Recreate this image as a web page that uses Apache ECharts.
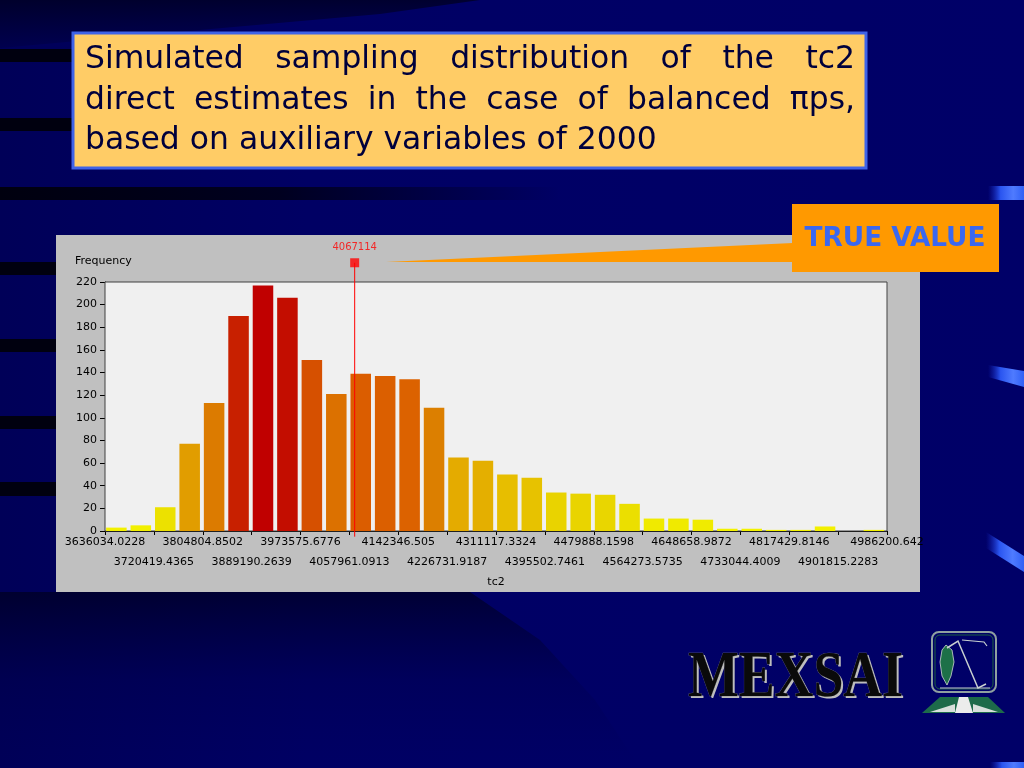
<!DOCTYPE html>
<html><head><meta charset="utf-8">
<script src="https://cdn.jsdelivr.net/npm/echarts@6/dist/echarts.min.js"></script>
<style>html,body{margin:0;padding:0;background:#000066;overflow:hidden}#chart{width:1024px;height:768px}</style>
</head><body><div id="chart"></div>
<script>
// ---- data ----
const binCounts = [3,5,21,77,113,190,217,206,151,121,139,137,134,109,65,62,50,47,34,33,32,24,11,11,10,2,2,1,1,4,0,1];
const edgeLabels = ['3636034.0228','3720419.4365','3804804.8502','3889190.2639','3973575.6776','4057961.0913','4142346.505','4226731.9187','4311117.3324','4395502.7461','4479888.1598','4564273.5735','4648658.9872','4733044.4009','4817429.8146','4901815.2283','4986200.642'];
const histStart = 3636034.0228;
const binWidth = 42192.70685;
const trueValue = 4067114;
const yMax = 220, yStep = 20;
const titleLines = ['Simulated sampling distribution of the tc2','direct estimates in the case of balanced \u03C0ps,','based on auxiliary variables of 2000'];
const calloutText = 'TRUE VALUE';
const yName = 'Frequency', xName = 'tc2';

// ---- helpers ----
const nBins = binCounts.length;
const trueBin = (trueValue - histStart) / binWidth;
const mctx = document.createElement('canvas').getContext('2d');
function textW(t, font){ mctx.font = font; return mctx.measureText(t).width; }
function fitSize(t, weight, fam, target){ const w = textW(t, weight + ' 100px ' + fam); return 100 * target / w; }

const titleFam = '"DejaVu Sans"';
const titleSize = fitSize(titleLines[2], 'normal', titleFam, 572);
const titleFont = 'normal ' + titleSize.toFixed(2) + 'px ' + titleFam;
function justified(line, x0, x1, yMid, last){
  const words = line.split(' ');
  const ws = words.map(w => textW(w, titleFont));
  const total = ws.reduce((a,b)=>a+b,0);
  const gap = last ? textW(' ', titleFont) : (x1 - x0 - total) / (words.length - 1);
  let x = x0; const els = [];
  words.forEach((w,i) => {
    els.push({type:'text', x:x, y:yMid, z:12, silent:true,
      style:{text:w, font:titleFont, fill:'#00003c', textVerticalAlign:'middle', textAlign:'left'}});
    x += ws[i] + gap;
  });
  return els;
}
const calloutSize = fitSize(calloutText, 'bold', '"DejaVu Sans"', 181);
const logoFont = 'bold 66px "Liberation Serif"';
const logoScale = 215 / textW('MEXSAI', logoFont);

const bevelGrad = {type:'linear', x:0, y:0, x2:1, y2:0, colorStops:[{offset:0,color:'rgba(20,40,200,0)'},{offset:0.35,color:'#2a55f0'},{offset:0.7,color:'#4f7bff'},{offset:1,color:'#3060f5'}]};
const dark = '#00000f';

const bg = [
  {type:'rect', z:-20, silent:true, shape:{x:0,y:0,width:1024,height:768}, style:{fill:{type:'linear',x:0,y:0,x2:1,y2:0,colorStops:[{offset:0,color:'#000058'},{offset:0.3,color:'#000064'},{offset:1,color:'#000068'}]}}},
  {type:'polygon', z:-19, silent:true, shape:{points:[[0,0],[480,0],[380,14],[200,30],[0,48]]}, style:{fill:{type:'linear',x:0,y:0,x2:0,y2:1,colorStops:[{offset:0,color:'rgba(0,0,25,0.7)'},{offset:1,color:'rgba(0,0,25,0.15)'}]}}},
  {type:'polygon', z:-19, silent:true, shape:{points:[[0,592],[470,592],[540,640],[595,700],[640,768],[0,768]]}, style:{fill:{type:'linear',x:0,y:0,x2:0,y2:1,colorStops:[{offset:0,color:'rgba(0,0,20,0.6)'},{offset:0.5,color:'rgba(0,0,40,0.15)'},{offset:1,color:'rgba(0,0,60,0)'}]}}},
  {type:'rect', z:-18, silent:true, shape:{x:0,y:49,width:72,height:13}, style:{fill:dark}},
  {type:'rect', z:-18, silent:true, shape:{x:0,y:118,width:72,height:13}, style:{fill:dark}},
  {type:'rect', z:-18, silent:true, shape:{x:0,y:187,width:560,height:13}, style:{fill:{type:'linear',x:0,y:0,x2:1,y2:0,colorStops:[{offset:0,color:dark},{offset:0.5,color:'rgba(0,0,15,0.8)'},{offset:1,color:'rgba(0,0,15,0)'}]}}},
  {type:'rect', z:-18, silent:true, shape:{x:0,y:262,width:56,height:13}, style:{fill:dark}},
  {type:'rect', z:-18, silent:true, shape:{x:0,y:339,width:56,height:13}, style:{fill:dark}},
  {type:'rect', z:-18, silent:true, shape:{x:0,y:416,width:56,height:13}, style:{fill:dark}},
  {type:'rect', z:-18, silent:true, shape:{x:0,y:482,width:56,height:14}, style:{fill:dark}},
  {type:'polygon', z:-17, silent:true, shape:{points:[[988,186],[1024,186],[1024,200],[988,200]]}, style:{fill:bevelGrad}},
  {type:'polygon', z:-17, silent:true, shape:{points:[[988,365],[1024,371],[1024,387],[988,377]]}, style:{fill:bevelGrad}},
  {type:'polygon', z:-17, silent:true, shape:{points:[[986,532],[1024,556],[1024,572],[986,548]]}, style:{fill:bevelGrad}},
  {type:'polygon', z:-17, silent:true, shape:{points:[[990,762],[1024,762],[1024,768],[990,768]]}, style:{fill:bevelGrad}},
  // chart panel
  {type:'rect', z:-5, silent:true, shape:{x:56,y:235,width:864,height:357}, style:{fill:'#c0c0c0'}},
  // title box
  {type:'rect', z:10, silent:true, shape:{x:73,y:33,width:793,height:135}, style:{fill:'#ffcc66', stroke:'#3f63e8', lineWidth:3}},
  // callout
  {type:'polygon', z:8, silent:true, shape:{points:[[386,262],[793,243],[793,262]]}, style:{fill:'#ff9900'}},
  {type:'rect', z:9, silent:true, shape:{x:792,y:204,width:207,height:68}, style:{fill:'#ff9900'}},
  {type:'text', z:10, silent:true, x:895, y:239, style:{text:calloutText, font:'bold '+calloutSize.toFixed(2)+'px "DejaVu Sans"', fill:'#3a68f0', textAlign:'center', textVerticalAlign:'middle'}},
  // axis name
  {type:'text', z:6, silent:true, x:75, y:261, style:{text:yName, font:'11px "DejaVu Sans"', fill:'#000', textAlign:'left', textVerticalAlign:'middle'}},
  // logo
  {type:'text', z:5, silent:true, x:690, y:714, scaleX:logoScale, style:{text:'MEXSAI', font:logoFont, fill:'#bdbdbd', textAlign:'left', textVerticalAlign:'bottom'}},
  {type:'text', z:6, silent:true, x:688, y:712, scaleX:logoScale, style:{text:'MEXSAI', font:logoFont, fill:'#0a0a0a', stroke:'#7a7a7a', lineWidth:0.6, textAlign:'left', textVerticalAlign:'bottom'}},
  {type:'rect', z:6, silent:true, shape:{x:932,y:632,width:64,height:60,r:7}, style:{fill:'rgba(0,0,0,0)', stroke:'#8fa0a0', lineWidth:2}},
  {type:'rect', z:6, silent:true, shape:{x:935,y:635,width:58,height:54,r:5}, style:{fill:'rgba(0,0,0,0)', stroke:'#1d5e44', lineWidth:1}},
  {type:'polygon', z:6, silent:true, shape:{points:[[946,645],[952,650],[954,662],[951,676],[947,685],[942,676],[940,662],[942,650]]}, style:{fill:'#1d7048', stroke:'#cfd8d0', lineWidth:0.8}},
  {type:'polyline', z:6, silent:true, shape:{points:[[947,648],[958,641],[978,688],[986,684]]}, style:{stroke:'#c8d0d0', lineWidth:1.5}},
  {type:'polyline', z:6, silent:true, shape:{points:[[962,640],[984,642],[987,646]]}, style:{stroke:'#c8d0d0', lineWidth:1.2}},
  {type:'line', z:6, silent:true, shape:{x1:940,y1:688,x2:990,y2:688}, style:{stroke:'#c8d0d0', lineWidth:1}},
  {type:'polygon', z:6, silent:true, shape:{points:[[922,713],[1005,713],[988,697],[940,697]]}, style:{fill:'#1d6b4a'}},
  {type:'polygon', z:7, silent:true, shape:{points:[[955,713],[973,713],[968,697],[959,697]]}, style:{fill:'#ececec'}},
  {type:'polygon', z:7, silent:true, shape:{points:[[930,712],[955,704],[955,712]]}, style:{fill:'#d8e0dc'}},
  {type:'polygon', z:7, silent:true, shape:{points:[[973,704],[998,712],[973,712]]}, style:{fill:'#d8e0dc'}}
].concat(
  justified(titleLines[0], 85, 855, 60, false),
  justified(titleLines[1], 85, 855, 101, false),
  justified(titleLines[2], 85, 855, 141, true)
);

const labelFont = {fontFamily:'DejaVu Sans', fontSize:11, color:'#000'};
function edgeLabel(v, row){
  const k = Math.round(v / 2);
  if (Math.abs(v - 2*k) > 1e-6 || k < 0 || k >= edgeLabels.length) return '';
  return (k % 2 === row) ? edgeLabels[k] : '';
}

const chart = echarts.init(document.getElementById('chart'), null, {renderer:'canvas'});
chart.setOption({
  backgroundColor:'#000066',
  animation:false,
  graphic:{elements:bg},
  grid:{left:105, right:137, top:282, bottom:237, show:true, backgroundColor:'#f0f0f0', borderColor:'#404040', borderWidth:1, z:1},
  visualMap:{show:false, type:'continuous', seriesIndex:0, dimension:1, min:0, max:Math.max.apply(null, binCounts),
    inRange:{color:['#f4f400','#eadc00','#e6b800','#e09800','#dc8000','#dc6000','#d24400','#c82000','#c00000']}},
  xAxis:[
    {type:'value', min:0, max:nBins, interval:2, position:'bottom',
      axisLine:{show:true, lineStyle:{color:'#000'}}, axisTick:{show:true, length:4, lineStyle:{color:'#000'}},
      splitLine:{show:false},
      axisLabel:Object.assign({margin:6, showMinLabel:true, showMaxLabel:true, formatter:v=>edgeLabel(v,0)}, labelFont),
      name:xName, nameLocation:'middle', nameGap:46, nameTextStyle:{fontFamily:'DejaVu Sans', fontSize:11, color:'#000'}},
    {type:'value', min:0, max:nBins, interval:2, position:'bottom',
      axisLine:{show:false}, axisTick:{show:false}, splitLine:{show:false},
      axisLabel:Object.assign({margin:26, formatter:v=>edgeLabel(v,1)}, labelFont)},
    {type:'value', min:0, max:nBins, interval:1, position:'bottom',
      axisLine:{show:false}, axisTick:{show:false}, axisLabel:{show:false},
      splitLine:{show:true, lineStyle:{color:'#c4c4c4', width:1}}}
  ],
  yAxis:{type:'value', min:0, max:yMax, interval:yStep,
    axisLine:{show:true, lineStyle:{color:'#000'}}, axisTick:{show:true, length:5, lineStyle:{color:'#000'}},
    splitLine:{show:true, lineStyle:{color:'#c4c4c4', width:1}},
    axisLabel:Object.assign({margin:8}, labelFont)},
  series:[
    {type:'custom', xAxisIndex:0, yAxisIndex:0, z:2,
      data:binCounts.map((c,i)=>[i,c]), encode:{x:0,y:1},
      renderItem:function(params, api){
        const i = api.value(0), v = api.value(1);
        const p0 = api.coord([i,0]), p1 = api.coord([i+1,v]);
        const bw = p1[0]-p0[0];
        return {type:'rect', shape:{x:p0[0]+bw*0.045, y:p1[1], width:bw*0.84, height:p0[1]-p1[1]}, style:{fill:api.visual('color')}};
      }},
    {type:'line', xAxisIndex:0, yAxisIndex:0, z:4, clip:false, silent:true, showSymbol:false, symbol:'none',
      data:[[trueBin,-5],[trueBin,237]], lineStyle:{color:'#ff0000', width:1}},
    {type:'scatter', xAxisIndex:0, yAxisIndex:0, z:5, clip:false, silent:true, symbol:'rect', symbolSize:9,
      itemStyle:{color:'#ff0000'}, data:[[trueBin,237]],
      label:{show:true, position:'top', distance:6, formatter:String(trueValue), color:'#ff0000', fontFamily:'DejaVu Sans', fontSize:10}}
  ]
});
</script></body></html>
